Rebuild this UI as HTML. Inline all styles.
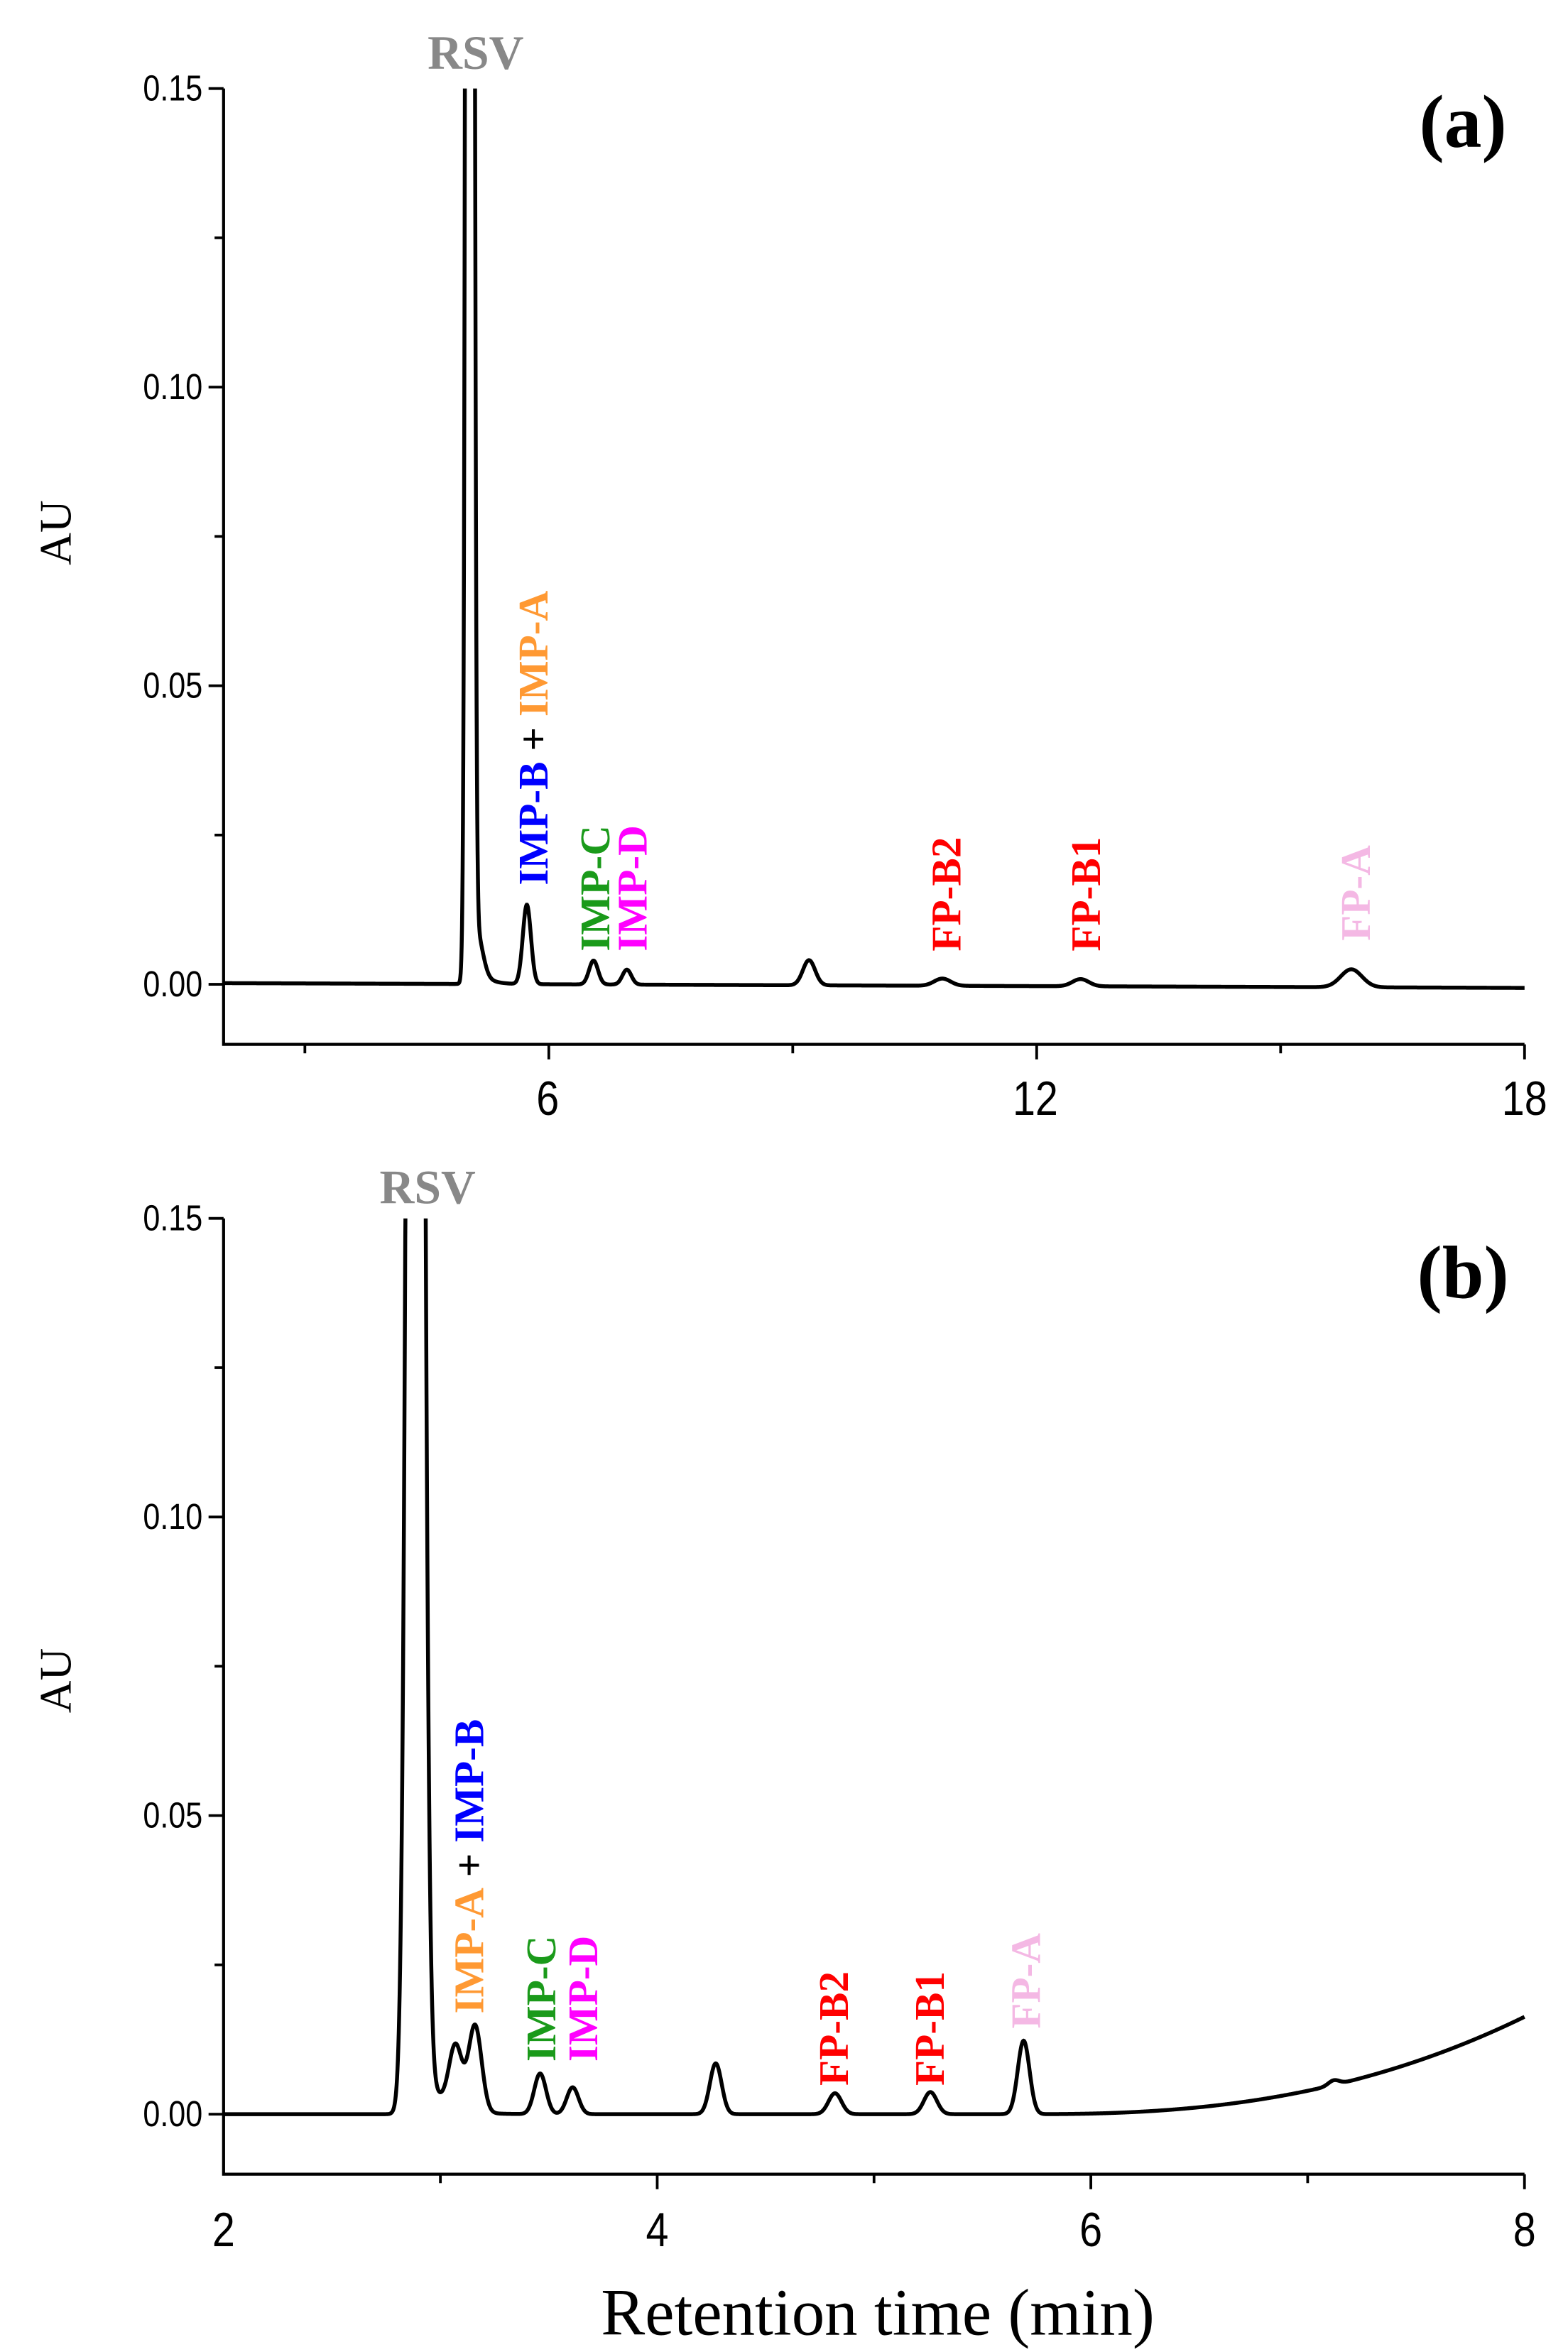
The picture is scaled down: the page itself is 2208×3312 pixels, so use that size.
<!DOCTYPE html>
<html><head><meta charset="utf-8"><style>
html,body{margin:0;padding:0;background:#fff;}
svg{display:block}
.tk{font-family:"Liberation Sans",sans-serif;fill:#000}
.lb{font-family:"Liberation Serif",serif;font-weight:bold;font-size:28px}
</style></head><body>
<svg id="s" width="2208" height="3312" viewBox="0 0 1045 1567.5" preserveAspectRatio="none" xmlns="http://www.w3.org/2000/svg">
<defs>
<clipPath id="ca"><rect x="149" y="59" width="868" height="640"/></clipPath>
<clipPath id="cb"><rect x="149" y="812" width="868" height="640"/></clipPath>
</defs>
<g stroke="#000" stroke-width="2" fill="none">
<path d="M149,59 V696 H1016"/>
<path d="M149,812 V1449 H1016"/>
</g>
<path id="ticks" stroke="#000" stroke-width="1.8" fill="none"/>
<path id="pa" fill="none" stroke="#000" stroke-width="2.6" clip-path="url(#ca)"/>
<path id="pb" fill="none" stroke="#000" stroke-width="2.6" clip-path="url(#cb)"/>
<g class="tk" text-anchor="end" font-size="24">
<text transform="translate(135,67) scale(0.85,1)">0.15</text><text transform="translate(135,266) scale(0.85,1)">0.10</text><text transform="translate(135,465) scale(0.85,1)">0.05</text><text transform="translate(135,664) scale(0.85,1)">0.00</text>
<text transform="translate(135,820) scale(0.85,1)">0.15</text><text transform="translate(135,1019) scale(0.85,1)">0.10</text><text transform="translate(135,1218) scale(0.85,1)">0.05</text><text transform="translate(135,1417) scale(0.85,1)">0.00</text>
</g>
<g class="tk" text-anchor="middle" font-size="32">
<text transform="translate(365,743) scale(0.85,1)">6</text><text transform="translate(690,743) scale(0.85,1)">12</text><text transform="translate(1016,743) scale(0.85,1)">18</text>
<text transform="translate(149,1497) scale(0.85,1)">2</text><text transform="translate(438,1497) scale(0.85,1)">4</text><text transform="translate(727,1497) scale(0.85,1)">6</text><text transform="translate(1016,1497) scale(0.85,1)">8</text>
</g>
<g font-family="Liberation Serif,serif" font-size="30" text-anchor="middle">
<text transform="translate(47,355) rotate(-90)">AU</text>
<text transform="translate(47,1120) rotate(-90)">AU</text>
</g>
<text x="585" y="1556" text-anchor="middle" font-family="Liberation Serif,serif" font-size="44">Retention time (min)</text>
<g font-family="Liberation Serif,serif" font-weight="bold" font-size="50" text-anchor="middle">
<text x="975" y="98">(a)</text><text x="975" y="865">(b)</text>
</g>
<g font-family="Liberation Serif,serif" font-weight="bold" font-size="32" fill="#888" text-anchor="middle">
<text x="317" y="46">RSV</text><text x="285" y="802">RSV</text>
</g>
<g class="lb">
<text transform="translate(365,590) rotate(-90)"><tspan fill="#0000ff">IMP-B</tspan><tspan fill="#000"> + </tspan><tspan fill="#ff9933">IMP-A</tspan></text>
<text transform="translate(406,634) rotate(-90)" fill="#1a9a1a">IMP-C</text>
<text transform="translate(431,634) rotate(-90)" fill="#ff00ff">IMP-D</text>
<text transform="translate(640,634) rotate(-90)" fill="#ff0000">FP-B2</text>
<text transform="translate(733,634) rotate(-90)" fill="#ff0000">FP-B1</text>
<text transform="translate(913,627) rotate(-90)" fill="#f4b8e4">FP-A</text>
<text transform="translate(322,1342) rotate(-90)"><tspan fill="#ff9933">IMP-A</tspan><tspan fill="#000"> + </tspan><tspan fill="#0000ff">IMP-B</tspan></text>
<text transform="translate(370,1374) rotate(-90)" fill="#1a9a1a">IMP-C</text>
<text transform="translate(398,1374) rotate(-90)" fill="#ff00ff">IMP-D</text>
<text transform="translate(565,1390) rotate(-90)" fill="#ff0000">FP-B2</text>
<text transform="translate(629,1390) rotate(-90)" fill="#ff0000">FP-B1</text>
<text transform="translate(693,1352) rotate(-90)" fill="#f4b8e4">FP-A</text>
</g>
</svg>
<script>
(function(){
var d='';
for(var i=0;i<=6;i++){var y=656-i*99.5;var L=(i%2==0)?10:6;d+='M149,'+y+'h-'+L;}
for(var i=0;i<=6;i++){var y=1409-i*99.5;var L=(i%2==0)?10:6;d+='M149,'+y+'h-'+L;}
for(var t=3;t<=18;t+=3){var x=149+(t-2)*54.19;var L=(t%6==0)?10:6;d+='M'+x+',696v'+L;}
for(var k=1;k<=6;k++){var x=149+k*144.5;var L=(k%2==0)?10:6;d+='M'+x+',1449v'+L;}
document.getElementById('ticks').setAttribute('d',d);
function g(x,c,s,h){var z=(x-c)/s;return h*Math.exp(-0.5*z*z);}
var pa='';
for(var tt=2;tt<=18.0001;tt+=0.004){
 var v=0.0002-0.0008*(tt-2)/16;
 v+=g(tt,5.03,0.032,1.0)+g(tt,5.12,0.07,0.006)+(tt>5.03?0.006*Math.exp(-(tt-5.03)/0.12):0);
 v+=g(tt,5.73,0.05,0.0133)+g(tt,6.55,0.055,0.004)+g(tt,6.96,0.055,0.0025)+g(tt,9.2,0.075,0.0042)+g(tt,10.84,0.1,0.0012)+g(tt,12.54,0.1,0.0012)+g(tt,15.87,0.13,0.003);
 var x=149+(tt-2)*54.19,y=656-v*3980;if(y<40)y=40;
 pa+=(pa?'L':'M')+x.toFixed(2)+','+y.toFixed(2);
}
document.getElementById('pa').setAttribute('d',pa);
var pb='';
for(var tt=2;tt<=8.0001;tt+=0.002){
 var v=0;
 if(tt>5.7)v+=0.0163*Math.pow((tt-5.7)/2.3,2.5);
 v+=g(tt,2.885,0.028,0.6)+(tt>2.885?0.012*Math.exp(-(tt-2.885)/0.08):0);
 v+=g(tt,3.07,0.03,0.0105)+g(tt,3.16,0.03,0.0145)+g(tt,3.46,0.027,0.0068)+g(tt,3.61,0.027,0.0045)+g(tt,4.27,0.027,0.0085)+g(tt,4.82,0.03,0.0035)+g(tt,5.26,0.03,0.0037)+g(tt,5.69,0.027,0.0123)+g(tt,7.12,0.025,0.0008);
 var x=149+(tt-2)*144.5,y=1409-v*3980;if(y<790)y=790;
 pb+=(pb?'L':'M')+x.toFixed(2)+','+y.toFixed(2);
}
document.getElementById('pb').setAttribute('d',pb);
})();
</script>
</body></html>
